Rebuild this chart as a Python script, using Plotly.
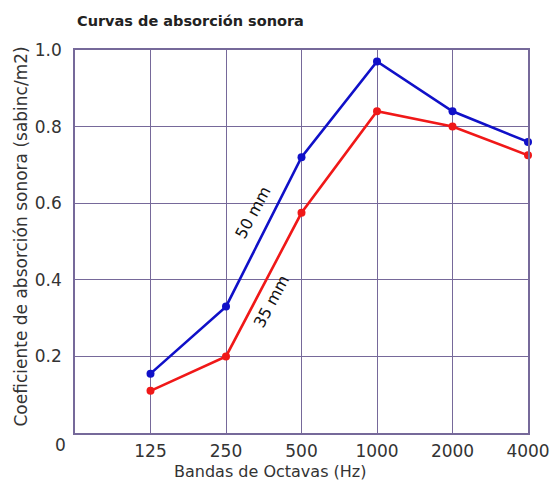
import plotly.graph_objects as go

categories = ["125", "250", "500", "1000", "2000", "4000"]
positions = [1, 2, 3, 4, 5, 6]
series_50mm = [0.155, 0.33, 0.72, 0.97, 0.84, 0.76]
series_35mm = [0.11, 0.20, 0.575, 0.84, 0.80, 0.725]
y_ticks = [0.2, 0.4, 0.6, 0.8, 1.0]
y_ticktext = ["0.2", "0.4", "0.6", "0.8", "1.0"]

grid = "#76699a"
txt = "#333333"
font = "DejaVu Sans, Liberation Sans, Arial, sans-serif"

fig = go.Figure()
fig.add_trace(go.Scatter(x=positions, y=series_50mm, mode="lines+markers",
                         line=dict(color="#1010c8", width=2.6),
                         marker=dict(color="#1010c8", size=8), name="50 mm",
                         cliponaxis=False))
fig.add_trace(go.Scatter(x=positions, y=series_35mm, mode="lines+markers",
                         line=dict(color="#f01818", width=2.6),
                         marker=dict(color="#f01818", size=8), name="35 mm",
                         cliponaxis=False))

fig.update_layout(
    width=550, height=481,
    margin=dict(l=75, r=22, t=50, b=48, autoexpand=False),
    paper_bgcolor="white", plot_bgcolor="white",
    showlegend=False,
    font=dict(family=font, color=txt, size=15),
    xaxis=dict(range=[0, 6], tickvals=positions, ticktext=categories,
               showgrid=True, gridcolor=grid, gridwidth=1,
               showline=True, linecolor=grid, linewidth=1.5, mirror=True,
               zeroline=False, ticks="outside", ticklen=2,
               tickcolor="rgba(0,0,0,0)", automargin=False,
               tickfont=dict(size=17, color=txt)),
    yaxis=dict(range=[0, 1], tickvals=y_ticks, ticktext=y_ticktext,
               showgrid=True, gridcolor=grid, gridwidth=1,
               showline=True, linecolor=grid, linewidth=1.5, mirror=True,
               zeroline=False, ticks="outside", ticklen=8,
               tickcolor="rgba(0,0,0,0)", automargin=False,
               tickfont=dict(size=17, color=txt)),
    annotations=[
        dict(text="<b>Curvas de absorción sonora</b>", xref="paper", yref="paper",
             x=0, y=1, xanchor="left", yanchor="middle", yshift=29,
             showarrow=False, font=dict(size=14.5, color="#222")),
        dict(text="0", xref="paper", yref="paper", x=0, y=0, xshift=-15, yshift=-12,
             xanchor="center", yanchor="middle", showarrow=False,
             font=dict(size=17, color=txt)),
        dict(text="Bandas de Octavas (Hz)", xref="paper", yref="paper",
             x=(270 - 75) / 453, y=0, yshift=-38, xanchor="center", yanchor="middle",
             showarrow=False, font=dict(size=16, color=txt)),
        dict(text="Coeficiente de absorción sonora (sabinc/m2)", xref="paper",
             yref="paper", x=0, y=0.5, xshift=-55, yshift=5, textangle=-90,
             xanchor="center", yanchor="middle", showarrow=False,
             font=dict(size=17, color=txt)),
        dict(text="50 mm", x=2.36, y=0.575, textangle=-62, showarrow=False,
             font=dict(size=16, color="#111")),
        dict(text="35 mm", x=2.6, y=0.344, textangle=-62, showarrow=False,
             font=dict(size=16, color="#111")),
    ],
)

fig.write_html(
    "out.html",
    config={"displayModeBar": False},
    post_script="document.body.style.margin='0';document.body.style.overflow='hidden';",
)
